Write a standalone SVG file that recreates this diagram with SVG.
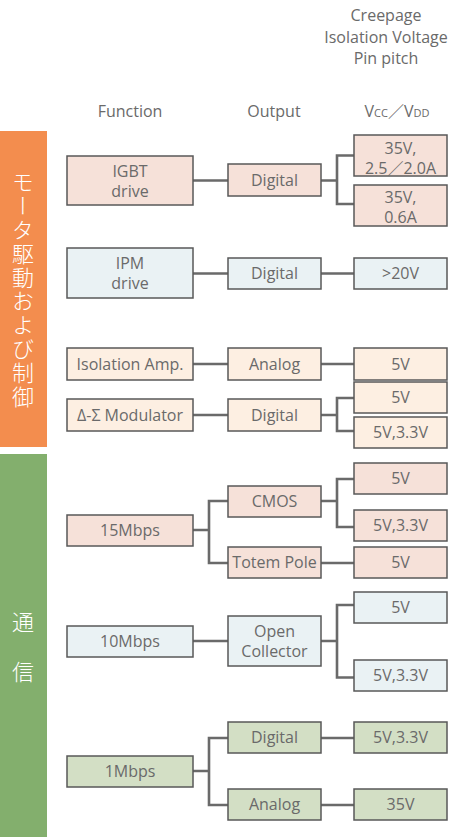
<svg xmlns="http://www.w3.org/2000/svg" width="453" height="837" viewBox="0 0 453 837">
<style>
text{font-family:"Open Sans","Noto Sans","Noto Sans CJK JP",sans-serif;font-size:16px;fill:#6a6a6a;text-anchor:middle}
.b rect{stroke:#585858;stroke-width:1.5}
.pk{fill:#f6e1d9}
.bl{fill:#eaf2f4}
.cr{fill:#fdefe2}
.gr{fill:#d3dfc5}
.jp{font-family:"Noto Sans CJK JP",sans-serif;font-size:22px;fill:#ffffff;font-weight:300}
#connectors path{fill:none;stroke:#6a6a6a;stroke-width:2.6}
</style>
<rect x="0" y="131" width="47" height="316" fill="#f38d4e"/>
<rect x="0" y="454" width="47" height="383" fill="#83af6d"/>
<text class="jp" x="23" y="171" writing-mode="vertical-rl" letter-spacing="1.8" style="text-anchor:start">モータ駆動および制御</text>
<text class="jp" x="23" y="630">通</text>
<text class="jp" x="23" y="680">信</text>

<g id="header">
<text x="386" y="21">Creepage</text>
<text x="386" y="43">Isolation Voltage</text>
<text x="386" y="64">Pin pitch</text>
<text x="130" y="117">Function</text>
<text x="274" y="117">Output</text>
<text x="397" y="117">V<tspan font-size="11">CC</tspan>／V<tspan font-size="11">DD</tspan></text>
</g>

<g id="connectors">
<path d="M193,180.5H228M321,180.5H337M354,155.5H337V204H354"/>
<path d="M193,273.5H228M321,273.5H354"/>
<path d="M193,364H228M321,364H354"/>
<path d="M193,415H228M321,415H337M354,398H337V431H354"/>
<path d="M193,530H209M228,501H209V563H228M321,501H337M354,479H337V527H354M321,563H354"/>
<path d="M193,641H228M321,641H337M354,605H337V677.5H354"/>
<path d="M193,771H209M228,738H209V805H228M321,738H354M321,805H354"/>
</g>

<g id="f-igbt" class="b"><rect class="pk" x="67" y="156" width="126" height="49"/><text x="130" y="176.5">IGBT</text><text x="130" y="196.5">drive</text></g>
<g id="o-igbt" class="b"><rect class="pk" x="228" y="164" width="93" height="32"/><text x="274.5" y="186">Digital</text></g>
<g id="v-igbt-a" class="b"><rect class="pk" x="354" y="135" width="93" height="41"/><text x="400.5" y="153.5">35V,</text><text x="400.5" y="173.5">2.5／2.0A</text></g>
<g id="v-igbt-b" class="b"><rect class="pk" x="354" y="185" width="93" height="41"/><text x="400.5" y="202.5">35V,</text><text x="400.5" y="222.5">0.6A</text></g>

<g id="f-ipm" class="b"><rect class="bl" x="67" y="248" width="126" height="50"/><text x="130" y="269">IPM</text><text x="130" y="289">drive</text></g>
<g id="o-ipm" class="b"><rect class="bl" x="228" y="258" width="93" height="31"/><text x="274.5" y="279">Digital</text></g>
<g id="v-ipm" class="b"><rect class="bl" x="354" y="258" width="93" height="31"/><text x="400.5" y="279">&gt;20V</text></g>

<g id="f-iso" class="b"><rect class="cr" x="67" y="348" width="126" height="32"/><text x="130" y="369.5">Isolation Amp.</text></g>
<g id="o-iso" class="b"><rect class="cr" x="228" y="348" width="93" height="32"/><text x="274.5" y="369.5">Analog</text></g>
<g id="v-iso" class="b"><rect class="cr" x="354" y="348" width="93" height="32"/><text x="400.5" y="369.5">5V</text></g>

<g id="f-ds" class="b"><rect class="cr" x="67" y="399" width="126" height="32"/><text x="130" y="420.5">Δ-Σ Modulator</text></g>
<g id="o-ds" class="b"><rect class="cr" x="228" y="399" width="93" height="32"/><text x="274.5" y="420.5">Digital</text></g>
<g id="v-ds-a" class="b"><rect class="cr" x="354" y="382" width="93" height="31"/><text x="400.5" y="403">5V</text></g>
<g id="v-ds-b" class="b"><rect class="cr" x="354" y="417" width="93" height="31"/><text x="400.5" y="438">5V,3.3V</text></g>

<g id="f-15" class="b"><rect class="pk" x="67" y="515" width="126" height="31"/><text x="130" y="536">15Mbps</text></g>
<g id="o-cmos" class="b"><rect class="pk" x="228" y="486" width="93" height="31"/><text x="274.5" y="507">CMOS</text></g>
<g id="o-totem" class="b"><rect class="pk" x="228" y="547" width="93" height="31"/><text x="274.5" y="568">Totem Pole</text></g>
<g id="v-cmos-a" class="b"><rect class="pk" x="354" y="463" width="93" height="31"/><text x="400.5" y="484">5V</text></g>
<g id="v-cmos-b" class="b"><rect class="pk" x="354" y="510" width="93" height="31"/><text x="400.5" y="531">5V,3.3V</text></g>
<g id="v-totem" class="b"><rect class="pk" x="354" y="547" width="93" height="31"/><text x="400.5" y="568">5V</text></g>

<g id="f-10" class="b"><rect class="bl" x="67" y="626" width="126" height="31"/><text x="130" y="647">10Mbps</text></g>
<g id="o-oc" class="b"><rect class="bl" x="228" y="616" width="93" height="50"/><text x="274.5" y="637">Open</text><text x="274.5" y="657">Collector</text></g>
<g id="v-oc-a" class="b"><rect class="bl" x="354" y="592" width="93" height="31"/><text x="400.5" y="613">5V</text></g>
<g id="v-oc-b" class="b"><rect class="bl" x="354" y="660" width="93" height="31"/><text x="400.5" y="681">5V,3.3V</text></g>

<g id="f-1" class="b"><rect class="gr" x="67" y="756" width="126" height="31"/><text x="130" y="777">1Mbps</text></g>
<g id="o-1-dig" class="b"><rect class="gr" x="228" y="722" width="93" height="31"/><text x="274.5" y="743">Digital</text></g>
<g id="o-1-ana" class="b"><rect class="gr" x="228" y="789" width="93" height="31"/><text x="274.5" y="810">Analog</text></g>
<g id="v-1-dig" class="b"><rect class="gr" x="354" y="722" width="93" height="31"/><text x="400.5" y="743">5V,3.3V</text></g>
<g id="v-1-ana" class="b"><rect class="gr" x="354" y="789" width="93" height="31"/><text x="400.5" y="810">35V</text></g>
</svg>
